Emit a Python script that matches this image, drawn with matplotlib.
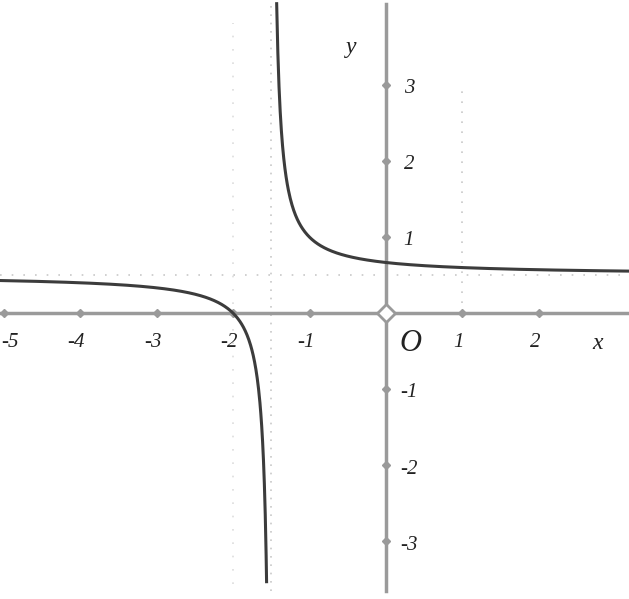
import numpy as np
import matplotlib.pyplot as plt

# Curve y = h + k / (x - v)
v_asym = -1.5      # vertical asymptote
h_asym = 0.5       # horizontal asymptote
k_coef = 0.25      # passes through (-2, 0) and (0, 2/3)

x_ticks = [-5, -4, -3, -2, -1, 1, 2]
x_labels = ['-5', '-4', '-3', '-2', '-1', '1', '2']
y_ticks = [3, 2, 1, -1, -2, -3]
y_labels = ['3', '2', '1', '-1', '-2', '-3']

xlim = (-5.05, 3.18)
ylim = (-3.76, 4.12)

fig = plt.figure(figsize=(6.29, 5.99), dpi=100)
ax = fig.add_axes([0, 0, 1, 1])
ax.set_xlim(*xlim)
ax.set_ylim(*ylim)
ax.axis('off')

axis_col = '#9a9a9a'
curve_col = '#3c3c3c'
grid_col = '#c8c8c8'

# dotted helper lines
ax.plot([v_asym, v_asym], [ylim[0] + 0.1, ylim[1]], ls=(0, (1, 4)), color=grid_col, lw=1.2)
ax.plot([-2, -2], [ylim[0] + 0.2, ylim[1] - 0.3], ls=(0, (1, 7)), color='#dddddd', lw=1.2)
ax.plot([1, 1], [0, 3.0], ls=(0, (1, 5)), color=grid_col, lw=1.2)
ax.plot(list(xlim), [h_asym, h_asym], ls=(0, (1, 6)), color=grid_col, lw=1.2)

# axes
ax.plot(list(xlim), [0, 0], color=axis_col, lw=2.5, zorder=2)
ax.plot([0, 0], [ylim[0] + 0.1, ylim[1] - 0.05], color=axis_col, lw=2.5, zorder=2)
ax.plot(x_ticks, [0] * len(x_ticks), 'D', color=axis_col, ms=4, zorder=3)
ax.plot([0] * len(y_ticks), y_ticks, 'D', color=axis_col, ms=4, zorder=3)
ax.plot([0], [0], 'D', color=axis_col, ms=9, mfc='white', mew=2, zorder=3)

# curve branches
xl = np.linspace(xlim[0], v_asym - 0.062, 600)
xr = np.linspace(v_asym + 0.07, xlim[1], 600)
ax.plot(xl, h_asym + k_coef / (xl - v_asym), color=curve_col, lw=2.2, zorder=4)
ax.plot(xr, h_asym + k_coef / (xr - v_asym), color=curve_col, lw=2.2, zorder=4)

font = dict(family='Liberation Serif', style='italic', color='#222222')
for t, lab in zip(x_ticks, x_labels):
    if t == x_ticks[0]:
        ax.text(xlim[0] + 0.02, -0.38, lab, fontsize=15, ha='left', va='center', **font)
    else:
        ax.text(t - 0.05, -0.38, lab, fontsize=15, ha='center', va='center', **font)
for t, lab in zip(y_ticks, y_labels):
    ax.text(0.3, t - 0.05, lab, fontsize=15, ha='center', va='center', **font)
ax.text(0.32, -0.4, 'O', fontsize=22, ha='center', va='center', **font)
ax.text(2.77, -0.4, 'x', fontsize=17, ha='center', va='center', **font)
ax.text(-0.45, 3.5, 'y', fontsize=17, ha='center', va='center', **font)

fig.savefig('out.png', dpi=100)
